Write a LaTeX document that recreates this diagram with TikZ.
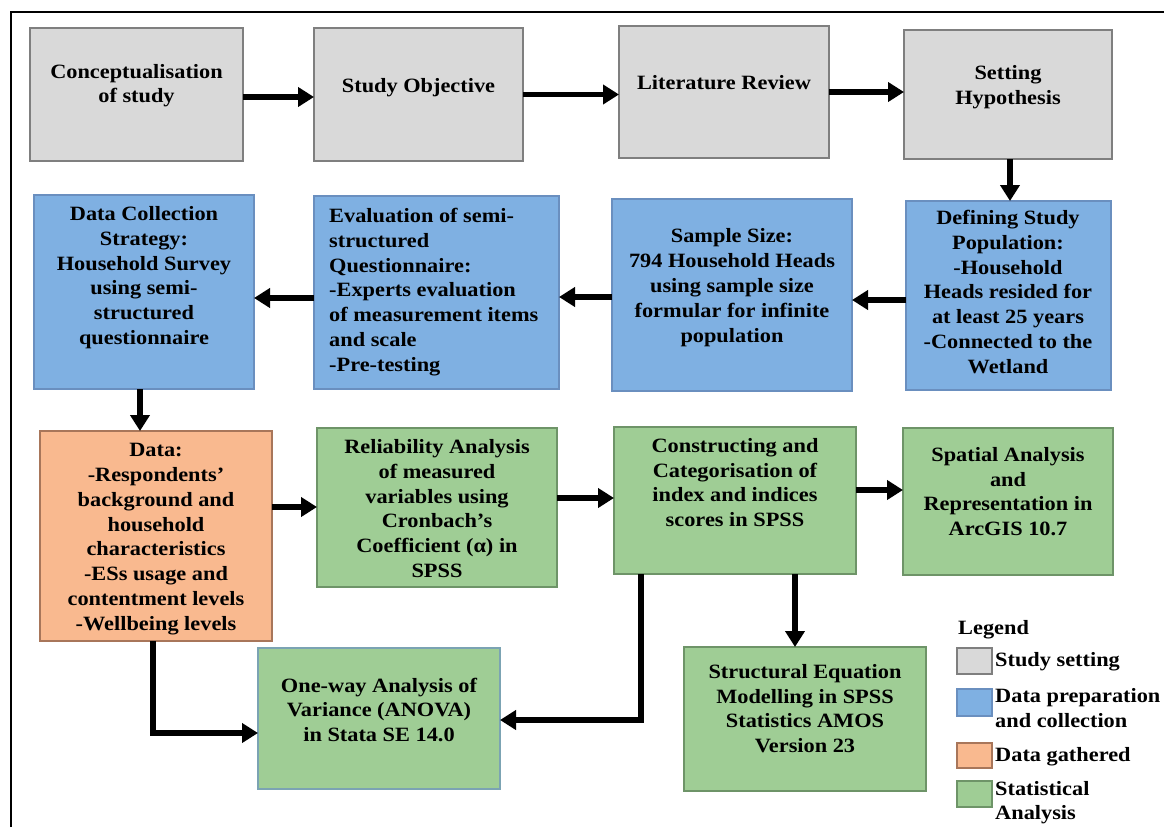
\documentclass[tikz,border=0pt]{standalone}
\usepackage{fontspec}
\setmainfont{Liberation Serif}[FakeStretch=1.1]
\usetikzlibrary{arrows.meta}
\definecolor{cGray}{HTML}{D9D9D9}
\definecolor{cGrayD}{HTML}{7F7F7F}
\definecolor{cBlue}{HTML}{7FB0E2}
\definecolor{cBlueD}{HTML}{6A8FBF}
\definecolor{cOrange}{HTML}{F9B98F}
\definecolor{cOrangeD}{HTML}{A8765A}
\definecolor{cGreen}{HTML}{9FCD95}
\definecolor{cGreenD}{HTML}{6E9468}
\definecolor{cGreenB}{HTML}{7BA3B3}
\newcommand{\ff}{\fontsize{20.3}{24.8}\selectfont\bfseries}
\newcommand{\Lt}[1]{\strut#1\strut}
\begin{document}
\begin{tikzpicture}[x=1pt,y=-1pt,
  box/.style={rectangle, inner sep=0pt, outer sep=0pt, line width=1.3pt},
  gbox/.style={box, fill=cGray, draw=cGrayD},
  bbox/.style={box, fill=cBlue, draw=cBlueD},
  obox/.style={box, fill=cOrange, draw=cOrangeD},
  grbox/.style={box, fill=cGreen, draw=cGreenD},
  arr/.style={line width=5.5pt, -{Triangle[length=16pt,width=19pt]}},
  txt/.style={font=\ff, align=center, inner sep=0pt, text=black},
]
\useasboundingbox (0,0) rectangle (1164,827);
\fill[white] (0,0) rectangle (1164,827);
\draw[line width=2pt] (11,827) -- (11,12) -- (1164,12);

% Row 1
\node[gbox, minimum width=213pt, minimum height=133pt] (A) at (136.5,94.5) {};
\node[gbox, minimum width=209pt, minimum height=133pt] (B) at (418.5,94.5) {};
\node[gbox, minimum width=210pt, minimum height=132pt] (C) at (724,92) {};
\node[gbox, minimum width=208pt, minimum height=129pt] (D) at (1008,94.5) {};
% Row 2
\node[bbox, minimum width=220pt, minimum height=194pt] (E) at (144,292) {};
\node[bbox, minimum width=245pt, minimum height=193pt] (F) at (436.5,292.5) {};
\node[bbox, minimum width=240pt, minimum height=192pt] (G) at (732,295) {};
\node[bbox, minimum width=205pt, minimum height=189pt] (H) at (1008.5,295.5) {};
% Row 3
\node[obox, minimum width=232pt, minimum height=210pt] (I) at (156,536) {};
\node[grbox, minimum width=240pt, minimum height=159pt] (J) at (437,507.5) {};
\node[grbox, minimum width=242pt, minimum height=147pt] (K) at (735,500.5) {};
\node[grbox, minimum width=210pt, minimum height=147pt] (L) at (1008,501.5) {};
% Row 4
\node[grbox, draw=cGreenB, minimum width=242pt, minimum height=141pt] (M) at (379,718.5) {};
\node[grbox, minimum width=242pt, minimum height=144pt] (N) at (805,719) {};

% Connectors
\draw[arr] ([yshift=-2.5pt]A.east) -- ([yshift=-2.5pt]A.east -| B.west);
\draw[arr] (B.east) -- (B.east -| C.west);
\draw[arr] (C.east) -- (C.east -| D.west);
\draw[arr] ([xshift=2pt]D.south) -- ([xshift=2pt]D.south |- H.north);
\draw[arr] ([yshift=-4.5pt]H.west) -- ([yshift=-4.5pt]H.west -| G.east);
\draw[arr] ([yshift=-2pt]G.west) -- ([yshift=-2pt]G.west -| F.east);
\draw[arr] ([yshift=-5.5pt]F.west) -- ([yshift=-5.5pt]F.west -| E.east);
\draw[arr] ([xshift=-4pt]E.south) -- ([xshift=-4pt]E.south |- I.north);
\draw[arr] ([yshift=29pt]I.east) -- ([yshift=29pt]I.east -| J.west);
\draw[arr] ([yshift=9.5pt]J.east) -- ([yshift=9.5pt]J.east -| K.west);
\draw[arr] ([yshift=10.5pt]K.east) -- ([yshift=10.5pt]K.east -| L.west);
\draw[arr] ([xshift=60pt]K.south) -- ([xshift=60pt]K.south |- N.north);
\draw[arr] ([xshift=-94pt]K.south) |- ([yshift=-1.5pt]M.east);
\draw[arr] ([xshift=-3pt]I.south) |- ([yshift=-14.5pt]M.west);

% Texts
\node[txt] (At) at (136.5,85.5) {\Lt{Conceptualisation\\of study}};
\node[txt] (Bt) at (418.5,88) {\Lt{Study Objective}};
\node[txt] (Ct) at (724,85) {\Lt{Literature Review}};
\node[txt] (Dt) at (1008,87) {\Lt{Setting\\Hypothesis}};
\node[txt] (Et) at (144,277.5) {\Lt{Data Collection\\Strategy:\\Household Survey\\using semi-\\structured\\questionnaire}};
\node[txt, align=left, anchor=west] (Ft) at (329,292) {\Lt{Evaluation of semi-\\structured\\Questionnaire:\\-Experts evaluation\\of measurement items\\and scale\\-Pre-testing}};
\node[txt] (Gt) at (732,287.5) {\Lt{Sample Size:\\794 Household Heads\\using sample size\\formular for infinite\\population}};
\node[txt] (Ht) at (1008,294) {\Lt{Defining Study\\Population:\\-Household\\Heads resided for\\at least 25 years\\-Connected to the\\Wetland}};
\node[txt] (It) at (156,538.5) {\Lt{Data:\\-Respondents’\\background and\\household\\characteristics\\-ESs usage and\\contentment levels\\-Wellbeing levels}};
\node[txt] (Jt) at (437,510.5) {\Lt{Reliability Analysis\\of measured\\variables using\\Cronbach's\\Coefficient (α) in\\SPSS}};
\node[txt] (Kt) at (735,484.5) {\Lt{Constructing and\\Categorisation of\\index and indices\\scores in SPSS}};
\node[txt] (Lt) at (1008,493.5) {\Lt{Spatial Analysis\\and\\Representation in\\ArcGIS 10.7}};
\node[txt] (Mt) at (379,712) {\Lt{One-way Analysis of\\Variance (ANOVA)\\in Stata SE 14.0}};
\node[txt] (Nt) at (805,710.5) {\Lt{Structural Equation\\Modelling in SPSS\\Statistics AMOS\\Version 23}};

% Legend
\node[txt, anchor=west] (Lg) at (958,630) {\Lt{Legend}};
\node[gbox, line width=1.1pt, minimum width=35pt, minimum height=26pt] (S1) at (974.5,661) {};
\node[bbox, line width=1.1pt, minimum width=35pt, minimum height=27pt] (S2) at (974.5,702.5) {};
\node[obox, line width=1.1pt, minimum width=35pt, minimum height=25pt] (S3) at (974.5,755.5) {};
\node[grbox, line width=1.1pt, minimum width=35pt, minimum height=26pt] (S4) at (974.5,794) {};
\node[txt, anchor=west] (S1t) at (995,662) {\Lt{Study setting}};
\node[txt, align=left, anchor=west] (S2t) at (995,710) {\Lt{Data preparation\\and collection}};
\node[txt, anchor=west] (S3t) at (995,757) {\Lt{Data gathered}};
\node[txt, align=left, anchor=west] (S4t) at (995,802.5) {\Lt{Statistical\\Analysis}};
\end{tikzpicture}
\end{document}
